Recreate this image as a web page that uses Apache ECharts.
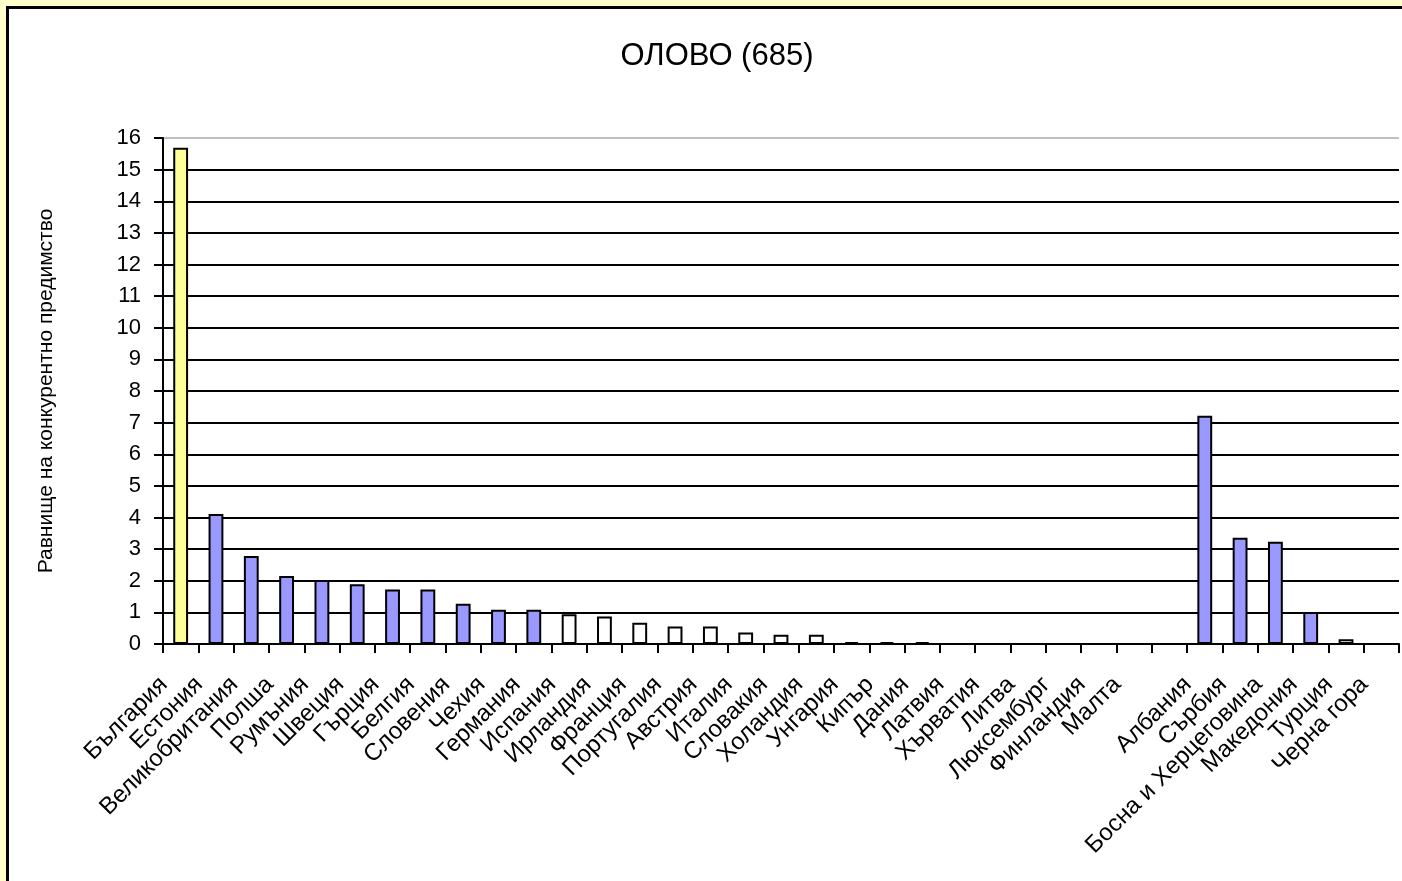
<!DOCTYPE html>
<html>
<head>
<meta charset="utf-8">
<script src="https://cdn.jsdelivr.net/npm/echarts@6/dist/echarts.min.js"></script>
<style>
html,body{margin:0;padding:0;width:1402px;height:881px;overflow:hidden;background:#FFFFCC;}
#panel{position:absolute;left:6px;top:6px;width:1400px;height:880px;border:3px solid #000;background:#fff;box-sizing:border-box;}
#chart{position:absolute;left:0;top:0;width:1402px;height:881px;}
</style>
</head>
<body>
<div id="panel"></div>
<div id="chart"></div>
<script>
const titleText = 'ОЛОВО (685)';
const yAxisName = 'Равнище на конкурентно предимство';
const highlightCountry = 'България';
const categories = ['България','Естония','Великобритания','Полша','Румъния','Швеция','Гърция','Белгия','Словения','Чехия','Германия','Испания','Ирландия','Франция','Португалия','Австрия','Италия','Словакия','Холандия','Унгария','Кипър','Дания','Латвия','Хърватия','Литва','Люксембург','Финландия','Малта','','Албания','Сърбия','Босна и Херцеговина','Македония','Турция','Черна гора'];
const values = [15.69,4.11,2.78,2.15,2.02,1.89,1.72,1.72,1.27,1.08,1.08,0.94,0.87,0.67,0.55,0.55,0.36,0.29,0.29,0.06,0.06,0.06,0,0,0,0,0,0,null,7.22,3.36,3.23,1.01,0.15,0];
const yTicks = [0,1,2,3,4,5,6,7,8,9,10,11,12,13,14,15,16];

const FONT = '"Liberation Sans", Arial, sans-serif';
function barColor(name, v){
  if(name === highlightCountry) return '#FFFF99';
  if(v > 1) return '#9999FF';
  return '#FFFFFF';
}
const gridColors = yTicks.map((t,i)=> i === yTicks.length-1 ? '#C0C0C0' : '#000');

const chart = echarts.init(document.getElementById('chart'), null, {renderer:'canvas'});
chart.setOption({
  backgroundColor: 'transparent',
  animation: false,
  title: {
    text: titleText,
    left: 712, top: 36, textAlign: 'center',
    textStyle: {fontFamily: FONT, fontSize: 31, fontWeight: 'normal', color: '#000'}
  },
  grid: {left: 163, right: 3, top: 138, bottom: 237, containLabel: false},
  xAxis: {
    type: 'category',
    data: categories,
    boundaryGap: true,
    axisLine: {show: true, lineStyle: {color: '#000', width: 2}},
    axisTick: {show: true, interval: 0, length: 9, lineStyle: {color: '#000', width: 2}},
    axisLabel: {interval: 0, rotate: 45, margin: 20, padding: [0, 24, 10, 0], fontFamily: FONT, fontSize: 24, color: '#000'},
    splitLine: {show: false}
  },
  yAxis: {
    type: 'value',
    min: 0, max: 16, interval: 1,
    name: yAxisName,
    nameLocation: 'middle',
    nameGap: 106,
    nameTextStyle: {fontFamily: FONT, fontSize: 21, color: '#000'},
    axisLine: {show: true, lineStyle: {color: '#000', width: 2}},
    axisTick: {show: true, length: 9, lineStyle: {color: '#000', width: 2}},
    axisLabel: {margin: 22, fontFamily: FONT, fontSize: 22, color: '#000'},
    splitLine: {show: true, lineStyle: {color: gridColors, width: 2}}
  },
  series: [{
    type: 'bar',
    data: values.map((v,i)=>({
      value: v,
      itemStyle: {color: barColor(categories[i], v)}
    })),
    barWidth: '42%',
    itemStyle: {borderColor: '#000', borderWidth: 2}
  }]
});
</script>
</body>
</html>
